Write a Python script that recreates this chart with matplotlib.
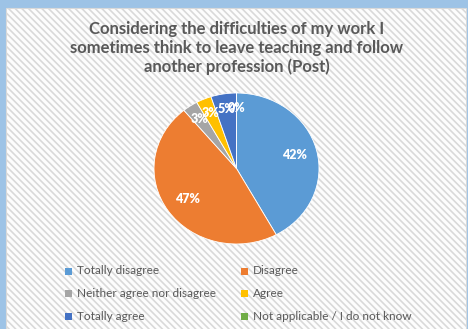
import matplotlib
matplotlib.use("Agg")
import matplotlib.pyplot as plt
from matplotlib.patches import Rectangle
import numpy as np

categories = ["Totally disagree", "Disagree", "Neither agree nor disagree",
              "Agree", "Totally agree", "Not applicable / I do not know"]
values = [42, 47, 3, 3, 5, 0]
pct_labels = ["42%", "47%", "3%", "3%", "5%", "0%"]
colors = ["#5B9BD5", "#ED7D31", "#A5A5A5", "#FFC000", "#4472C4", "#70AD47"]
title = "Considering the difficulties of my work I\nsometimes think to leave teaching and follow\nanother profession (Post)"

W, H = 468, 329
fig = plt.figure(figsize=(W / 100, H / 100), dpi=100)
fig.patch.set_facecolor("#9DC3E6")

plt.rcParams['hatch.color'] = '#F3F3F3'
plt.rcParams['hatch.linewidth'] = 1.2
bg = fig.add_axes([0, 0, 1, 1])
bg.set_xlim(0, W)
bg.set_ylim(H, 0)
bg.axis("off")
bg.add_patch(Rectangle((6, 8), 460, H, facecolor="#FDFDFD", edgecolor="#D9D9D9",
                       linewidth=0.8, hatch="\\\\\\\\\\"))

fontname = "Lato"
fig.text(237 / W, 1 - 48 / H, title, ha="center", va="center", fontsize=12,
         fontweight="bold", color="#595959", family=fontname, linespacing=1.2)

ax = fig.add_axes([154 / W, 1 - 244 / H, 165 / W, 151 / H])
wedges, _ = ax.pie(values, colors=colors, startangle=90, counterclock=False,
                   wedgeprops=dict(linewidth=0.6, edgecolor="white"))
ax.set_aspect("auto")
ax.set_xlim(-1, 1)
ax.set_ylim(-1, 1)

for w, lab, v in zip(wedges, pct_labels, values):
    ang = np.deg2rad((w.theta1 + w.theta2) / 2)
    r = 0.72 if v > 10 else 0.8
    ax.text(r * np.cos(ang), r * np.sin(ang), lab, ha="center", va="center",
            color="white", fontsize=9, fontweight="heavy", family=fontname)

# legend
for i, (lab, c) in enumerate(zip(categories, colors)):
    col, row = i % 2, i // 2
    x = 65 + col * 176
    y = 271 + row * 22.5
    bg.add_patch(Rectangle((x, y - 3.5), 7, 7, facecolor=c, edgecolor="none"))
    bg.text(x + 12, y, lab, ha="left", va="center", fontsize=8.5,
            color="#595959", family=fontname)

fig.savefig("out.png", dpi=100, facecolor=fig.get_facecolor())
